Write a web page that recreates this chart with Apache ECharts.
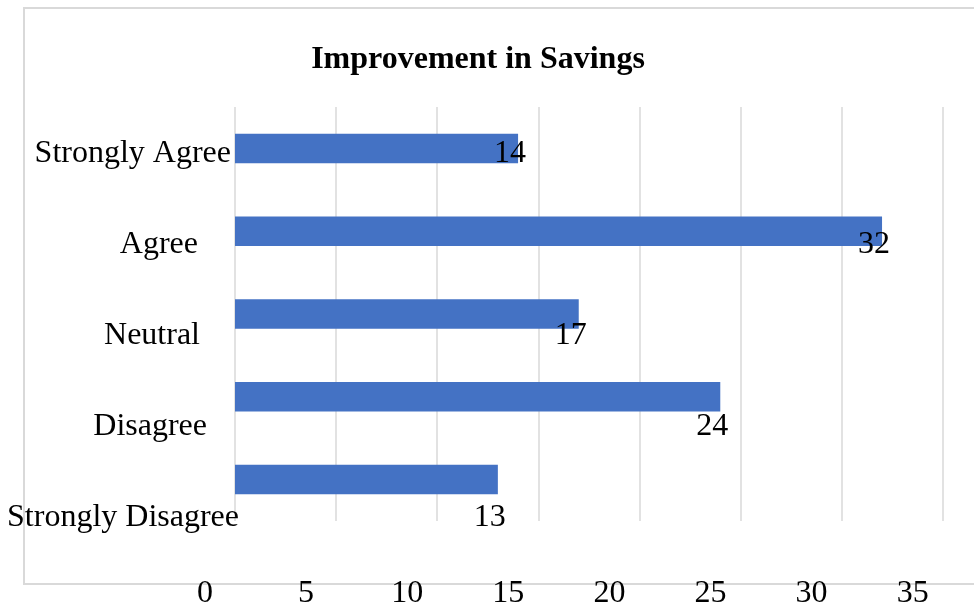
<!DOCTYPE html>
<html>
<head>
<meta charset="utf-8">
<title>Improvement in Savings</title>
<script src="https://cdn.jsdelivr.net/npm/echarts@6/dist/echarts.min.js"></script>
<style>
  html, body { margin: 0; padding: 0; background: #ffffff; }
  #chart { width: 974px; height: 610px; }
</style>
</head>
<body>
<div id="chart"></div>
<script>
// Survey responses: "Improvement in Savings"
const categories = ['Strongly Agree', 'Agree', 'Neutral', 'Disagree', 'Strongly Disagree'];
const responses = [14, 32, 17, 24, 13];
const axisMin = 0;
const axisMax = 35;
const axisStep = 5;

// Styling
const FONT = '"Liberation Serif", "Times New Roman", serif';
const BAR_COLOR = '#4472c4';
const GRID_COLOR = '#d9d9d9';
const LABEL_SIZE = 32;
// right-side inset of each category label (px)
const labelInset = { 'Strongly Agree': 9, 'Agree': 42, 'Neutral': 40, 'Disagree': 33, 'Strongly Disagree': 1 };

const rich = {};
categories.forEach((c, i) => {
  rich['c' + i] = {
    fontFamily: FONT, fontSize: LABEL_SIZE, color: '#000',
    padding: [0, labelInset[c], 0, 0]
  };
});

const chart = echarts.init(document.getElementById('chart'), null, { renderer: 'canvas' });

chart.setOption({
  backgroundColor: '#ffffff',
  animation: false,
  title: {
    text: 'Improvement in Savings',
    left: 473, top: 39, textAlign: 'center',
    textStyle: { fontFamily: FONT, fontWeight: 'bold', fontSize: 32, color: '#000' }
  },
  graphic: [{
    type: 'rect', z: -10, silent: true,
    shape: { x: 24, y: 8, width: 970, height: 576 },
    style: { fill: 'none', stroke: GRID_COLOR, lineWidth: 2 }
  }],
  grid: [
    // bars
    { left: 235, right: 31.3, top: 107, height: 415.5, containLabel: false },
    // category labels and value labels
    { left: 235, right: 31.3, top: 108, height: 455, containLabel: false }
  ],
  xAxis: [
    {
      gridIndex: 0, type: 'value', min: axisMin, max: axisMax, interval: axisStep,
      axisLine: { show: false }, axisTick: { show: false },
      splitLine: { show: true, lineStyle: { color: GRID_COLOR, width: 1.5 } },
      axisLabel: {
        show: true, margin: 57, fontFamily: FONT, fontSize: LABEL_SIZE, color: '#000',
        padding: [0, 60, 0, 0]
      }
    },
    {
      gridIndex: 1, type: 'value', min: axisMin, max: axisMax, interval: axisStep,
      show: false
    }
  ],
  yAxis: [
    {
      gridIndex: 0, type: 'category', data: categories, inverse: true,
      axisLine: { show: false }, axisTick: { show: false }, axisLabel: { show: false },
      splitLine: { show: false }
    },
    {
      gridIndex: 1, type: 'category', data: categories, inverse: true,
      axisLine: { show: false }, axisTick: { show: false }, splitLine: { show: false },
      axisLabel: {
        margin: -5, align: 'right',
        formatter: (v, i) => '{c' + i + '|' + v + '}',
        rich: rich
      }
    }
  ],
  series: [
    {
      type: 'bar', xAxisIndex: 0, yAxisIndex: 0,
      data: responses, barWidth: 29.5,
      itemStyle: { color: BAR_COLOR },
      z: 2
    },
    {
      type: 'scatter', xAxisIndex: 1, yAxisIndex: 1,
      data: responses.map((v, i) => [v, categories[i]]),
      symbolSize: 0, z: 5,
      itemStyle: { opacity: 1 },
      label: {
        show: true, position: 'inside', offset: [-8, 0],
        formatter: p => String(p.value[0]),
        fontFamily: FONT, fontSize: LABEL_SIZE, color: '#000', opacity: 1,
        textBorderWidth: 0
      }
    }
  ]
});
</script>
</body>
</html>
